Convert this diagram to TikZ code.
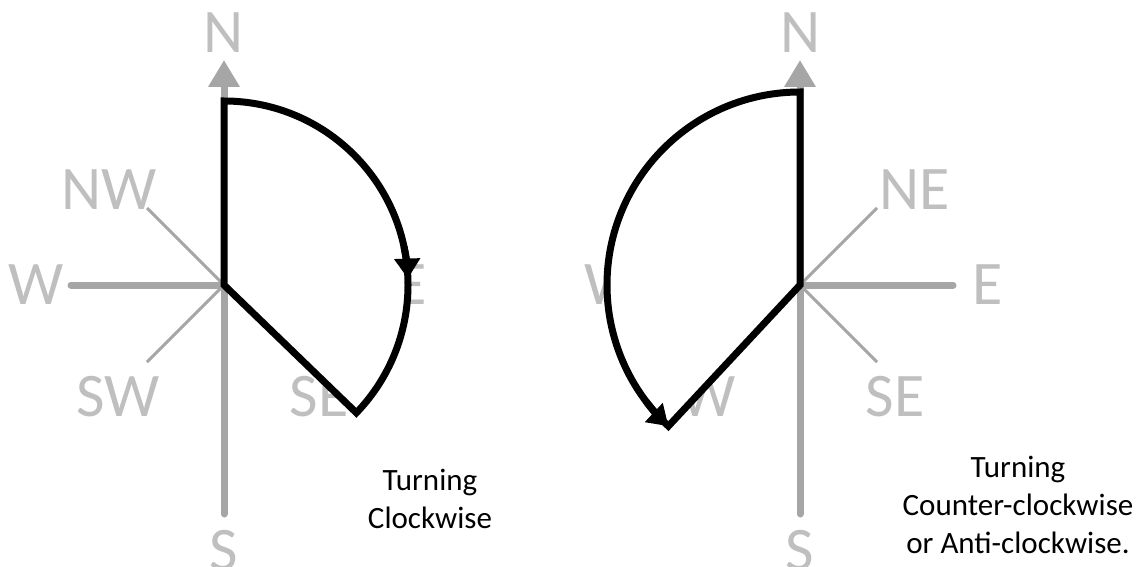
\documentclass[tikz,border=0pt]{standalone}
\usepackage{fontspec}
\setmainfont{Carlito}
\usepackage{xcolor}
\usepackage{tikz}
\usetikzlibrary{arrows.meta, calc}

\definecolor{axisgray}{HTML}{A6A6A6}
\definecolor{lblgray}{HTML}{BFBFBF}

\begin{document}
\begin{tikzpicture}[
  x = 1pt, y = 1pt,
  axis/.style    = {draw=axisgray, line width=7pt, line cap=round},
  diag/.style    = {draw=axisgray, line width=3pt},
  north/.style   = {axis, -{Triangle[length=27pt, width=30pt]}},
  dirlbl/.style  = {text=lblgray, inner sep=0pt,
                    font=\fontsize{62}{62}\selectfont},
  sector/.style  = {draw=black, line width=7pt, fill=white},
  turn/.style    = {draw=black, line width=7pt,
                    -{Triangle[length=20pt, width=25pt]}},
  note/.style    = {font=\fontsize{31}{38}\selectfont, align=center}
]
\useasboundingbox (0,0) rectangle (1142,566);

% Compass centres
\coordinate (cl) at (224,281);
\coordinate (cr) at (800,281);

% Both compass roses
\foreach \c in {cl, cr} {
  \draw[axis]  (\c) -- ++(-153,0);
  \draw[axis]  (\c) -- ++(153,0);
  \draw[axis]  (\c) -- ++(0,-229);
  \draw[north] (\c) -- ++(0,225);
  \draw[diag]  (\c) -- ++(-77,77);
  \draw[diag]  (\c) -- ++(77,77);
  \draw[diag]  (\c) -- ++(-77,-77);
  \draw[diag]  (\c) -- ++(77,-77);
  \node[dirlbl] (\c-n)  at ($(\c)+(0,252)$)     {N};
  \node[dirlbl] (\c-s)  at ($(\c)+(0,-266)$)    {S};
  \node[dirlbl] (\c-w)  at ($(\c)+(-188,0)$)    {W};
  \node[dirlbl] (\c-e)  at ($(\c)+(188,0)$)     {E};
  \node[dirlbl] (\c-nw) at ($(\c)+(-115,95)$)   {NW};
  \node[dirlbl] (\c-ne) at ($(\c)+(115,95)$)    {NE};
  \node[dirlbl] (\c-sw) at ($(\c)+(-106,-112)$) {SW};
  \node[dirlbl] (\c-se) at ($(\c)+(95,-112)$)   {SE};
}

% Clockwise sector, arrow head near E
\draw[sector] (cl) -- ++(0,184) arc[start angle=90, end angle=-44, radius=184] -- cycle;
\draw[turn] ($(cl)+(12:184)$) arc[start angle=12, end angle=2, radius=184];

% Counter-clockwise sector, arrow head at SW corner
\draw[sector] (cr) -- ++(0,193) arc[start angle=90, end angle=227, radius=193] -- cycle;
\draw[turn] ($(cr)+(217:193)$) arc[start angle=217, end angle=227, radius=193];

% Notes
\node[note] (cwtxt)  at (430,67) {Turning\\Clockwise};
\node[note] (ccwtxt) at (1018,61) {Turning\\Counter-clockwise\\or Anti-clockwise.};
\end{tikzpicture}
\end{document}
